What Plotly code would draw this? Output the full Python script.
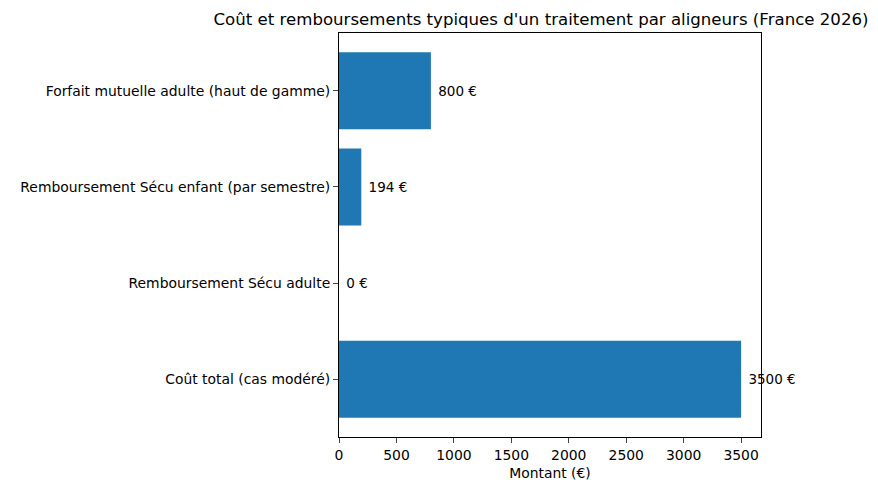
import plotly.graph_objects as go

categories = ["Coût total (cas modéré)", "Remboursement Sécu adulte",
              "Remboursement Sécu enfant (par semestre)", "Forfait mutuelle adulte (haut de gamme)"]
values = [3500, 0, 194, 800]
labels = [f"{v} €" for v in values]
xticks = [0, 500, 1000, 1500, 2000, 2500, 3000, 3500]

fig = go.Figure(go.Bar(
    x=values, y=list(range(len(categories))), orientation="h",
    marker=dict(color="#1f77b4", line=dict(width=0)), width=0.8,
    text=[" " + t for t in labels], textposition="outside", cliponaxis=False,
    textfont=dict(size=13.5, color="black"),
))
fig.update_layout(
    width=870, height=482, margin=dict(l=321, r=117, t=25, b=45),
    plot_bgcolor="white", paper_bgcolor="white",
    font=dict(family="DejaVu Sans", size=13.9, color="black"),
    title=dict(text="Coût et remboursements typiques d'un traitement par aligneurs (France 2026)",
               x=(321 + 745) / 2 / 870, xanchor="center", y=1 - 11 / 482, yanchor="middle",
               font=dict(size=16.6)),
    showlegend=False,
)
fig.update_xaxes(range=[0, 3673], tickvals=xticks, ticks="outside", ticklen=5,
                 showgrid=False, zeroline=False, showline=True, linecolor="black", mirror=True,
                 title=dict(text="Montant (€)", standoff=6, font=dict(size=13.9)))
fig.update_yaxes(range=[-0.6, 3.6], tickvals=list(range(len(categories))), ticktext=categories,
                 ticks="outside", ticklen=5, showgrid=False, zeroline=False,
                 showline=True, linecolor="black", mirror=True)
fig.write_html("out.html")
